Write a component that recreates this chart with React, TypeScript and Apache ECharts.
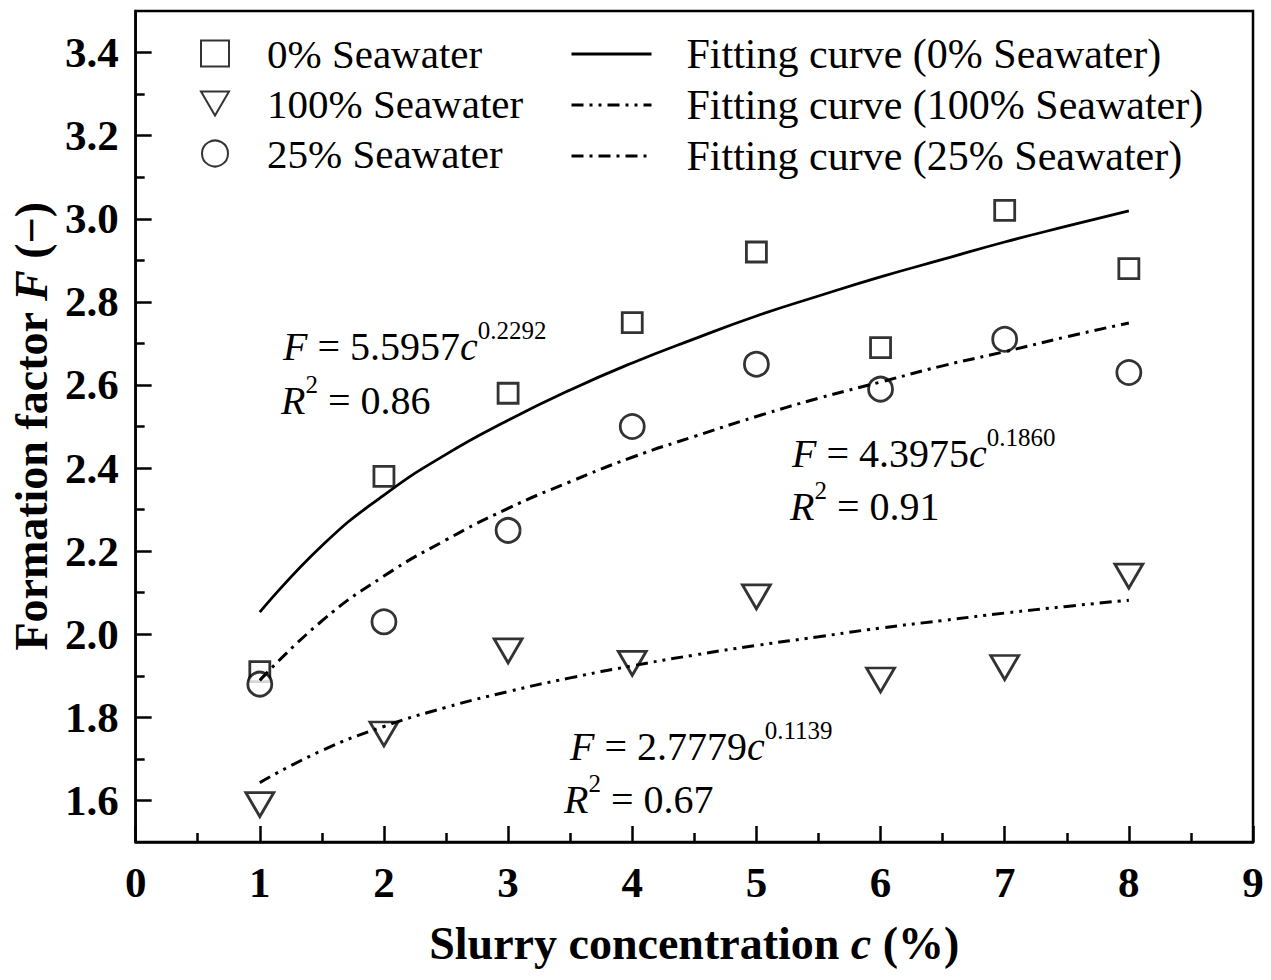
import React, { useEffect, useRef } from "react";
import * as echarts from "echarts";

const concentration = [1, 2, 3, 4, 5, 6, 7, 8];
const sea0 = [1.91, 2.38, 2.58, 2.75, 2.92, 2.69, 3.02, 2.88];
const sea100 = [1.59, 1.76, 1.96, 1.93, 2.09, 1.89, 1.92, 2.14];
const sea25 = [1.88, 2.03, 2.25, 2.50, 2.65, 2.59, 2.71, 2.63];

const fitX = [1, 1.5, 2, 2.5, 3, 3.5, 4, 4.5, 5, 5.5, 6, 6.5, 7, 7.5, 8];
const fit0 = [2.053, 2.213, 2.335, 2.433, 2.515, 2.588, 2.653, 2.711, 2.766, 2.814, 2.860, 2.902, 2.944, 2.982, 3.019];
const fit100 = [1.643, 1.720, 1.778, 1.824, 1.862, 1.895, 1.924, 1.950, 1.973, 1.994, 2.015, 2.033, 2.051, 2.067, 2.082];
const fit25 = [1.889, 2.032, 2.140, 2.227, 2.303, 2.367, 2.426, 2.476, 2.524, 2.568, 2.607, 2.646, 2.680, 2.716, 2.749];

const yMajorTicks = [1.6, 1.8, 2.0, 2.2, 2.4, 2.6, 2.8, 3.0, 3.2, 3.4];
const yMinorTicks = [1.7, 1.9, 2.1, 2.3, 2.5, 2.7, 2.9, 3.1, 3.3];

const scatterNames = ["0% Seawater", "100% Seawater", "25% Seawater"];
const lineNames = [
  "Fitting curve (0% Seawater)",
  "Fitting curve (100% Seawater)",
  "Fitting curve (25% Seawater)",
];

const FONT = "Liberation Serif";
const DOWN_TRIANGLE = "path://M0,0 L28,0 L14,24 Z";

function pairs(xs: number[], ys: number[]) {
  return xs.map((x, i) => [x, ys[i]]);
}

const eqRich = {
  i: { fontFamily: FONT, fontSize: 40, fontStyle: "italic", lineHeight: 48, verticalAlign: "bottom", color: "#000" },
  n: { fontFamily: FONT, fontSize: 40, lineHeight: 48, verticalAlign: "bottom", color: "#000" },
  s: { fontFamily: FONT, fontSize: 25, lineHeight: 25, verticalAlign: "top", color: "#000" },
};

function eqText(x: number, y: number, text: string) {
  return {
    type: "text",
    x,
    y,
    style: { text, rich: eqRich, fill: "#000", font: `40px ${FONT}` },
  };
}

export default function App() {
  const ref = useRef<HTMLDivElement>(null);
  useEffect(() => {
    if (!ref.current) return;
    const chart = echarts.init(ref.current, undefined, { renderer: "svg" });
    const markerStyle = { color: "#fff", borderColor: "#000", borderWidth: 2.8 };
    const legendCommon = {
      orient: "vertical",
      top: 28,
      itemHeight: 26,
      itemGap: 9,
      selectedMode: false,
    };
    const option: any = {
      animation: false,
      backgroundColor: "#fff",
      grid: {
        left: 135,
        top: 11,
        right: 18,
        bottom: 138,
        show: true,
        borderColor: "#000",
        borderWidth: 2.5,
        backgroundColor: "transparent",
      },
      legend: [
        {
          ...legendCommon,
          data: [
            { name: scatterNames[0] },
            { name: scatterNames[1], icon: DOWN_TRIANGLE },
            { name: scatterNames[2] },
          ],
          left: 195,
          itemWidth: 28,
          textStyle: { fontFamily: FONT, fontSize: 41, color: "#000", padding: [0, 0, 0, 33], lineHeight: 36 },
        },
        {
          ...legendCommon,
          data: lineNames,
          left: 565,
          itemWidth: 80,
          itemStyle: { color: "rgba(0,0,0,0)", borderWidth: 0, opacity: 0 },
          lineStyle: { width: 3, color: "#000" },
          textStyle: { fontFamily: FONT, fontSize: 42, color: "#000", padding: [0, 0, 0, 30], lineHeight: 36 },
        },
      ],
      xAxis: {
        type: "value",
        min: 0,
        max: 9,
        interval: 1,
        name: "{b|Slurry concentration }{bi|c}{b| (%)}",
        nameLocation: "middle",
        nameGap: 78,
        nameTextStyle: {
          rich: {
            b: { fontFamily: FONT, fontSize: 46, fontWeight: "bold", color: "#000" },
            bi: { fontFamily: FONT, fontSize: 46, fontWeight: "bold", fontStyle: "italic", color: "#000" },
          },
        },
        axisLine: { show: true, lineStyle: { color: "#000", width: 2.5 } },
        axisTick: { show: true, inside: true, length: 16, lineStyle: { color: "#000", width: 2.5 } },
        minorTick: { show: true, splitNumber: 2, length: 9, lineStyle: { color: "#000", width: 2.5 } },
        axisLabel: { fontFamily: FONT, fontSize: 43, fontWeight: "bold", color: "#000", margin: 19 },
        splitLine: { show: false },
        minorSplitLine: { show: false },
      },
      yAxis: [
        {
          type: "value",
          min: 1.5,
          max: 3.5,
          interval: 0.1,
          name: "{b|Formation factor }{bi|F}{b| (−)}",
          nameLocation: "middle",
          nameGap: 78,
          nameTextStyle: {
            rich: {
              b: { fontFamily: FONT, fontSize: 46, fontWeight: "bold", color: "#000" },
              bi: { fontFamily: FONT, fontSize: 46, fontWeight: "bold", fontStyle: "italic", color: "#000" },
            },
          },
          axisLine: { show: true, lineStyle: { color: "#000", width: 2.5 } },
          axisTick: {
            show: true,
            inside: true,
            length: 16,
            customValues: yMajorTicks,
            lineStyle: { color: "#000", width: 2.5 },
          },
          axisLabel: {
            fontFamily: FONT,
            fontSize: 43,
            fontWeight: "bold",
            color: "#000",
            margin: 17,
            customValues: yMajorTicks,
            formatter: (v: number) => (Math.round(v * 10) % 2 === 0 ? v.toFixed(1) : ""),
          },
          splitLine: { show: false },
        },
        {
          type: "value",
          min: 1.5,
          max: 3.5,
          interval: 0.1,
          position: "left",
          axisLine: { show: false },
          axisTick: {
            show: true,
            inside: true,
            length: 9,
            customValues: yMinorTicks,
            lineStyle: { color: "#000", width: 2.5 },
          },
          axisLabel: { show: false },
          splitLine: { show: false },
        },
      ],
      series: [
        {
          name: scatterNames[0],
          type: "scatter",
          symbol: "rect",
          symbolSize: 20,
          itemStyle: markerStyle,
          data: pairs(concentration, sea0),
          z: 2,
        },
        {
          name: scatterNames[1],
          type: "scatter",
          symbol: DOWN_TRIANGLE,
          symbolSize: [28, 24],
          itemStyle: markerStyle,
          data: pairs(concentration, sea100),
          z: 2,
        },
        {
          name: scatterNames[2],
          type: "scatter",
          symbol: "circle",
          symbolSize: 24,
          itemStyle: markerStyle,
          data: pairs(concentration, sea25),
          z: 2,
        },
        {
          name: lineNames[0],
          type: "line",
          smooth: true,
          showSymbol: false,
          symbol: "none",
          lineStyle: { color: "#000", width: 2.8, type: "solid" },
          itemStyle: { color: "#000" },
          data: pairs(fitX, fit0),
          z: 5,
        },
        {
          name: lineNames[1],
          type: "line",
          smooth: true,
          showSymbol: false,
          symbol: "none",
          lineStyle: { color: "#000", width: 3, type: [12, 6, 3, 6, 3, 6] },
          itemStyle: { color: "#000" },
          data: pairs(fitX, fit100),
          z: 5,
        },
        {
          name: lineNames[2],
          type: "line",
          smooth: true,
          showSymbol: false,
          symbol: "none",
          lineStyle: { color: "#000", width: 3, type: [12, 6, 3, 6] },
          itemStyle: { color: "#000" },
          data: pairs(fitX, fit25),
          z: 5,
        },
      ],
      graphic: [
        eqText(283, 318, "{i|F}{n| = 5.5957}{i|c}{s|0.2292}"),
        eqText(281, 372, "{i|R}{s|2}{n| = 0.86}"),
        eqText(792, 425, "{i|F}{n| = 4.3975}{i|c}{s|0.1860}"),
        eqText(790, 478, "{i|R}{s|2}{n| = 0.91}"),
        eqText(570, 718, "{i|F}{n| = 2.7779}{i|c}{s|0.1139}"),
        eqText(564, 771, "{i|R}{s|2}{n| = 0.67}"),
      ],
    };
    chart.setOption(option);
    return () => chart.dispose();
  }, []);
  return (
    <div
      ref={ref}
      style={{ position: "fixed", left: 0, top: 0, width: 1271, height: 980, background: "#fff" }}
    />
  );
}
